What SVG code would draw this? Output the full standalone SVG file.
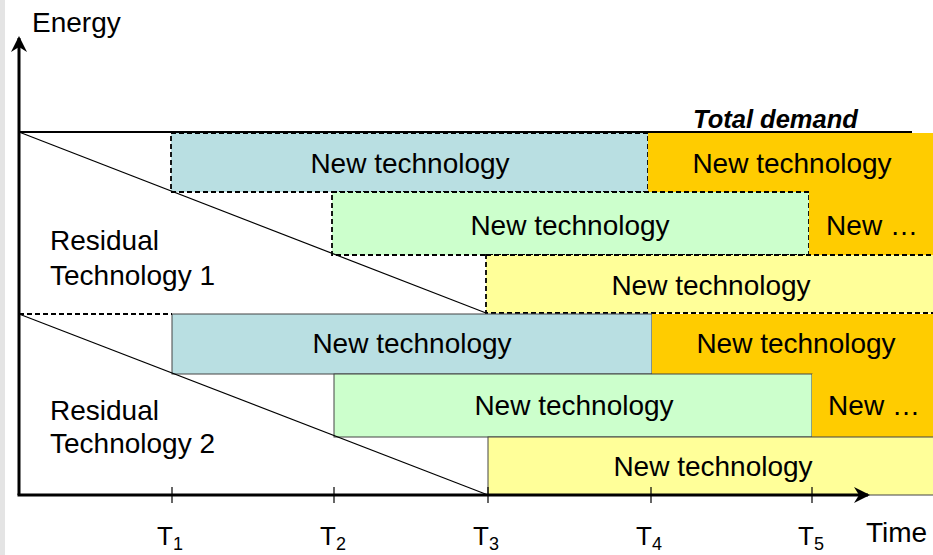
<svg xmlns="http://www.w3.org/2000/svg" width="933" height="555" viewBox="0 0 933 555">
<defs>
<style>
.t{font-family:"Liberation Sans",Arial,sans-serif;font-size:28px;fill:#000}
.c{text-anchor:middle}
.sub{font-family:"Liberation Sans",Arial,sans-serif;font-size:18px;fill:#000}
.dash{stroke:#000;stroke-width:1.8;stroke-dasharray:5,3}
.solid{stroke:#444;stroke-width:1}
.blue{fill:#B9DFE2}
.green{fill:#CCFFCC}
.yellow{fill:#FFFF99}
.orange{fill:#FFCC00}
.ax{stroke:#000;stroke-width:3;fill:none}
.thin{stroke:#000;stroke-width:1.2;fill:none}
</style>
<marker id="ah" viewBox="0 0 16 16" refX="14" refY="8" markerWidth="16" markerHeight="16" markerUnits="userSpaceOnUse" orient="auto">
<path d="M0,0 L16,8 L0,16 L5,8 Z" fill="#000"/>
</marker>
</defs>
<rect x="0" y="0" width="933" height="555" fill="#fff"/>
<rect x="0" y="0" width="5" height="555" fill="#e4e4e4"/>

<g id="upper-row1-blue"><rect x="171" y="133" width="477" height="59" class="blue dash"/><text x="410" y="173" class="t c">New technology</text></g>
<g id="upper-row1-orange"><rect x="648" y="133" width="290" height="59" class="orange"/><text x="792" y="173" class="t c">New technology</text></g>
<g id="upper-row2-green"><rect x="332" y="192" width="477" height="63" class="green dash"/><text x="570" y="235" class="t c">New technology</text></g>
<g id="upper-row2-orange"><rect x="809" y="192" width="130" height="63" class="orange"/><text x="872" y="235" class="t c">New …</text></g>
<g id="upper-row3-yellow"><rect x="486" y="255" width="452" height="58" class="yellow dash"/><text x="711" y="295" class="t c">New technology</text></g>

<g id="lower-row1-blue"><rect x="172" y="314" width="480" height="60" class="blue solid"/><text x="412" y="353" class="t c">New technology</text></g>
<g id="lower-row1-orange"><rect x="652" y="314" width="286" height="60" class="orange"/><text x="796" y="353" class="t c">New technology</text></g>
<g id="lower-row2-green"><rect x="334" y="374" width="478" height="63" class="green solid"/><text x="574" y="415" class="t c">New technology</text></g>
<g id="lower-row2-orange"><rect x="812" y="374" width="126" height="63" class="orange"/><text x="874" y="415" class="t c">New …</text></g>
<g id="lower-row3-yellow"><rect x="488" y="437" width="450" height="58" class="yellow solid"/><text x="713" y="476" class="t c">New technology</text></g>

<g id="residual-1"><text x="50" y="250" class="t">Residual</text><text x="50" y="285" class="t">Technology 1</text></g>
<g id="residual-2"><text x="50" y="420" class="t">Residual</text><text x="50" y="453" class="t">Technology 2</text></g>

<g id="connectors">
<line x1="19" y1="132" x2="912" y2="132" stroke="#000" stroke-width="2"/>
<line x1="19" y1="314" x2="172" y2="314" class="dash"/>
<line x1="19" y1="132" x2="486" y2="313" class="thin"/>
<line x1="19" y1="314" x2="488" y2="495" class="thin"/>
<line x1="19" y1="495" x2="19" y2="38" class="ax" marker-end="url(#ah)"/>
<line x1="17.5" y1="495" x2="868" y2="495" class="ax" marker-end="url(#ah)"/>
<g stroke="#000" stroke-width="1.2">
<line x1="172" y1="487" x2="172" y2="503"/>
<line x1="334" y1="487" x2="334" y2="503"/>
<line x1="488" y1="487" x2="488" y2="503"/>
<line x1="651" y1="487" x2="651" y2="503"/>
<line x1="812" y1="487" x2="812" y2="503"/>
</g>
</g>

<g id="labels">
<text x="32" y="32" class="t">Energy</text>
<text x="693" y="128" style="font-family:'Liberation Sans',Arial,sans-serif;font-size:25.5px;font-weight:bold;font-style:italic">Total demand</text>
<text x="866" y="542" class="t">Time</text>
<text x="157" y="545" class="t" style="font-size:26px">T<tspan class="sub" dy="5">1</tspan></text>
<text x="320" y="545" class="t" style="font-size:26px">T<tspan class="sub" dy="5">2</tspan></text>
<text x="473" y="545" class="t" style="font-size:26px">T<tspan class="sub" dy="5">3</tspan></text>
<text x="636" y="545" class="t" style="font-size:26px">T<tspan class="sub" dy="5">4</tspan></text>
<text x="798" y="545" class="t" style="font-size:26px">T<tspan class="sub" dy="5">5</tspan></text>
</g>
</svg>
